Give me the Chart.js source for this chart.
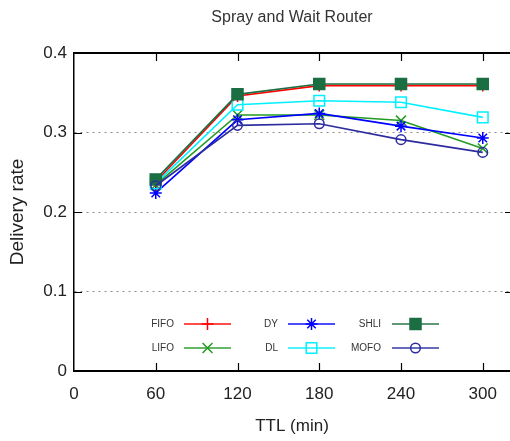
<!DOCTYPE html>
<html>
<head>
<meta charset="utf-8">
<script src="https://cdn.jsdelivr.net/npm/chart.js@4.4.0/dist/chart.umd.min.js"></script>
<style>
  html, body { margin: 0; padding: 0; background: #fff; }
</style>
</head>
<body>
<canvas id="canvas" width="510" height="441"></canvas>
<script>
// TTL values (min) and delivery rate per queue policy
var ttl = [60, 120, 180, 240, 300];
var fifo = [0.238, 0.346, 0.359, 0.359, 0.359];
var lifo = [0.234, 0.322, 0.322, 0.315, 0.280];
var dy   = [0.224, 0.316, 0.324, 0.308, 0.293];
var dl   = [0.236, 0.335, 0.340, 0.338, 0.319];
var shli = [0.241, 0.348, 0.361, 0.361, 0.361];
var mofo = [0.233, 0.309, 0.311, 0.291, 0.275];
var xTicks = [0, 60, 120, 180, 240, 300];
var yTicks = [0, 0.1, 0.2, 0.3, 0.4];
var chartTitle = 'Spray and Wait Router';

var FONT = "'Liberation Sans', Arial, sans-serif";

function points(vals) {
  return ttl.map(function(t, i) { return {x: t, y: vals[i]}; });
}

function series(label, vals, color, style, radius, fill) {
  return {
    label: label,
    data: points(vals),
    borderColor: color,
    backgroundColor: fill,
    borderWidth: 1.6,
    pointStyle: style,
    pointRadius: radius,
    pointHoverRadius: radius,
    pointBorderColor: color,
    pointBackgroundColor: fill,
    pointBorderWidth: 1.5,
    tension: 0
  };
}

var datasets = [
  series('FIFO', fifo, '#ff0000', 'cross', 6, 'rgba(0,0,0,0)'),
  series('LIFO', lifo, '#239a23', 'crossRot', 7, 'rgba(0,0,0,0)'),
  series('DY', dy, '#0000ff', 'star', 6, 'rgba(0,0,0,0)'),
  series('DL', dl, '#00f0ff', 'rect', 7.5, 'rgba(0,0,0,0)'),
  series('SHLI', shli, '#1b6e42', 'rect', 7.8, '#1b6e42'),
  series('MOFO', mofo, '#2c2ca0', 'circle', 4.8, 'rgba(0,0,0,0)')
];
// later series drawn on top, like the original
datasets.forEach(function(d, i) { d.order = datasets.length - i; });

// title over the plot area, frame, inward ticks and the in-plot legend
var framePlugin = {
  id: 'frame',
  afterDraw: function(chart) {
    var ctx = chart.ctx;
    var a = chart.chartArea;
    var xs = chart.scales.x, ys = chart.scales.y;
    ctx.save();

    ctx.font = '16px ' + FONT;
    ctx.fillStyle = '#333';
    ctx.textAlign = 'center';
    ctx.textBaseline = 'middle';
    ctx.fillText(chartTitle, (a.left + a.right) / 2, 18);

    ctx.strokeStyle = '#000';
    ctx.lineWidth = 2;
    ctx.beginPath();
    ctx.moveTo(a.left, a.top);
    ctx.lineTo(a.right, a.top);
    ctx.stroke();

    ctx.lineWidth = 1.2;
    ctx.beginPath();
    xTicks.forEach(function(v) {
      if (v === 0) return;
      var px = Math.round(xs.getPixelForValue(v)) + 0.5;
      ctx.moveTo(px, a.bottom);
      ctx.lineTo(px, a.bottom - 8);
      ctx.moveTo(px, a.top);
      ctx.lineTo(px, a.top + 8);
    });
    yTicks.forEach(function(v) {
      if (v === 0 || v === 0.4) return;
      var py = Math.round(ys.getPixelForValue(v)) + 0.5;
      ctx.moveTo(a.left, py);
      ctx.lineTo(a.left + 8, py);
      ctx.moveTo(a.right, py);
      ctx.lineTo(a.right - 5, py);
    });
    ctx.stroke();

    // legend: 3 columns x 2 rows
    var textRight = [174, 278, 381];
    var lineStart = [184, 288, 392];
    var lineLen = 47;
    var rowY = [324, 348];
    ctx.font = '10px ' + FONT;
    ctx.textAlign = 'right';
    ctx.textBaseline = 'middle';
    chart.data.datasets.forEach(function(d, i) {
      var col = Math.floor(i / 2), row = i % 2;
      var y = rowY[row];
      ctx.fillStyle = '#333';
      ctx.fillText(d.label, textRight[col], y);
      ctx.strokeStyle = d.borderColor;
      ctx.lineWidth = 2;
      ctx.globalAlpha = 0.7;
      ctx.beginPath();
      ctx.moveTo(lineStart[col], y);
      ctx.lineTo(lineStart[col] + lineLen, y);
      ctx.stroke();
      ctx.globalAlpha = 1;
      ctx.fillStyle = d.pointBackgroundColor;
      ctx.lineWidth = 1.5;
      Chart.helpers.drawPoint(ctx, {
        pointStyle: d.pointStyle,
        radius: d.pointRadius,
        borderWidth: 1.5,
        rotation: 0
      }, lineStart[col] + lineLen / 2, y);
    });
    ctx.restore();
  }
};

new Chart(document.getElementById('canvas').getContext('2d'), {
  type: 'line',
  data: { datasets: datasets },
  options: {
    responsive: false,
    animation: false,
    layout: { autoPadding: false, padding: { left: 1, right: 0, top: 53, bottom: 0 } },
    plugins: {
      legend: { display: false },
      tooltip: { enabled: false },
      title: { display: false }
    },
    scales: {
      x: {
        type: 'linear',
        min: 0,
        max: 320,
        afterBuildTicks: function(scale) {
          scale.ticks = xTicks.map(function(v) { return {value: v}; });
        },
        afterFit: function(scale) {
          scale.height = 70;
          scale.paddingLeft = 0;
          scale.paddingRight = 0;
        },
        grid: { display: true, drawOnChartArea: false, drawTicks: false },
        border: { display: true, color: '#000', width: 2 },
        ticks: {
          color: '#222',
          padding: 13,
          maxRotation: 0,
          font: { family: FONT, size: 17 }
        },
        title: {
          display: true,
          text: 'TTL (min)',
          color: '#222',
          font: { family: FONT, size: 17 },
          padding: { top: 0, bottom: 4 }
        }
      },
      y: {
        min: 0,
        max: 0.4,
        afterBuildTicks: function(scale) {
          scale.ticks = yTicks.map(function(v) { return {value: v}; });
        },
        afterFit: function(scale) {
          scale.width = 73;
          scale.paddingTop = 0;
          scale.paddingBottom = 0;
        },
        grid: {
          drawTicks: false,
          color: function(c) {
            var v = c.tick ? c.tick.value : 0;
            return (v > 0.001 && v < 0.399) ? '#8a8a8a' : 'rgba(0,0,0,0)';
          },
          lineWidth: 1
        },
        border: { display: true, color: '#000', width: 1.5, dash: [2, 4] },
        ticks: {
          color: '#222',
          padding: 7,
          font: { family: FONT, size: 17 },
          callback: function(v) { return v === 0 ? '0' : v.toFixed(1); }
        },
        title: {
          display: true,
          text: 'Delivery rate',
          color: '#222',
          font: { family: FONT, size: 19 },
          padding: { top: 5, bottom: 10 }
        }
      }
    }
  },
  plugins: [framePlugin]
});
</script>
</body>
</html>
